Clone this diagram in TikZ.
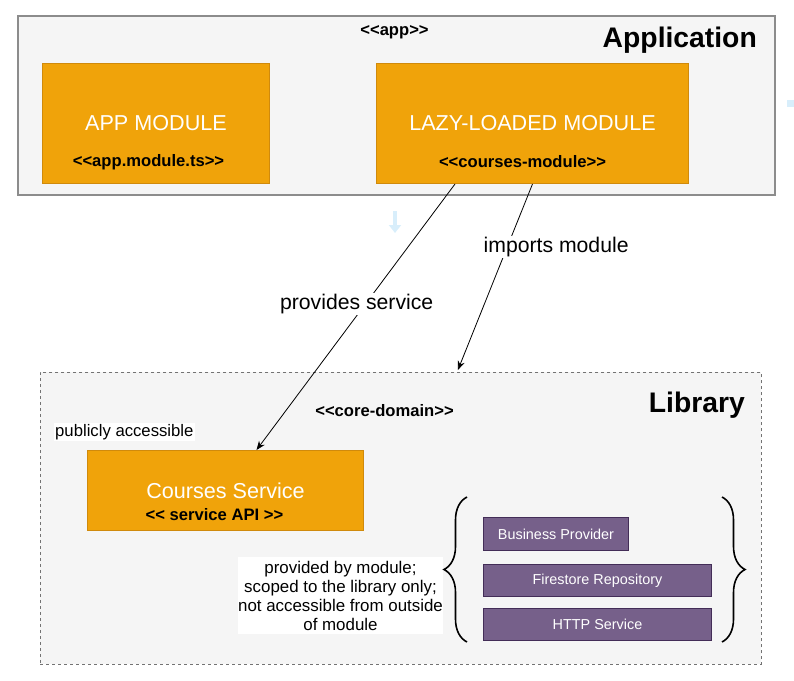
\documentclass[tikz,border=0pt]{standalone}
\usepackage{fontspec}
\setmainfont[Ligatures=TeXOff]{Liberation Sans}
\usetikzlibrary{arrows.meta,calc,decorations.pathreplacing}
\definecolor{orangefill}{HTML}{F0A30A}
\definecolor{orangeline}{HTML}{D08A0C}
\definecolor{purplefill}{HTML}{76608A}
\definecolor{purpleline}{HTML}{432D57}
\definecolor{framefill}{HTML}{F5F5F5}
\definecolor{ghostblue}{HTML}{D8EEFB}
\newcommand{\fs}[1]{\fontsize{#1}{#1}\selectfont}

\begin{document}
\begin{tikzpicture}[x=1pt, y=-1pt,
frame/.style={fill=framefill, anchor=north west, inner sep=0pt},
modbox/.style={draw=orangeline, fill=orangefill, line width=1pt, anchor=north west, inner sep=0pt, text=white, font=\fs{21.6}},
provbox/.style={draw=purpleline, fill=purplefill, line width=1pt, anchor=north west, inner sep=0pt, text=white, font=\fs{14.4}},
stereo/.style={font=\bfseries\fs{16.6}, inner sep=0pt},
title/.style={font=\bfseries\fs{28.3}, inner sep=0pt, anchor=east},
lbl/.style={fill=white, font=\fs{21.2}, inner sep=1pt},
link/.style={-{Stealth[length=9pt, width=7pt]}, line width=0.8pt},
bracket/.style={decorate, decoration={brace, amplitude=23pt}, line width=1.6pt},
]
\useasboundingbox (0,0) rectangle (794,680);

% application
\node[frame, draw=black!45, line width=1.6pt, minimum width=757, minimum height=179] (app) at (17,15) {};
\node[stereo] (appst) at (394.5,32) {<<app>>};
\node[title] (apptitle) at (757,40) {Application};
\node[modbox, minimum width=227, minimum height=120] (appmod) at (42,63) {APP MODULE};
\node[stereo] at (148.5,162) {<<app.module.ts>>};
\node[modbox, minimum width=312, minimum height=120] (lazymod) at (376,63) {LAZY-LOADED MODULE};
\node[stereo] at (522.5,162) {<<courses-module>>};

% library
\node[frame, draw=black!55, dashed, line width=0.8pt, minimum width=721, minimum height=292] (lib) at (40,372) {};
\node[stereo] (libst) at (384.5,411) {<<core-domain>>};
\node[title] (libtitle) at (745,405) {Library};
\node[fill=white, font=\fs{16.7}, inner sep=1pt, anchor=west] (pub) at (54,432) {publicly accessible};
\node[modbox, minimum width=276, minimum height=80] (courses) at (87,450) {Courses Service};
\node[stereo] at (214.5,515) {<< service API >>};

\node[fill=white, font={\fontsize{16.9}{19}\selectfont}, align=center, inner sep=0pt, minimum width=205, minimum height=77] (note) at (340.5,595.5)
  {provided by module;\\scoped to the library only;\\not accessible from outside\\of module};
\node[provbox, minimum width=145, minimum height=33] (biz) at (483,517) {Business Provider};
\node[provbox, minimum width=228, minimum height=32] (repo) at (483,564) {Firestore Repository};
\node[provbox, minimum width=228, minimum height=32] (http) at (483,608) {HTTP Service};
\draw[bracket] (467,642) -- (467,497);
\draw[bracket] (722,497) -- (722,642);

% connectors
\draw[link] ($(lazymod.south west)+(79,0)$) -- ($(courses.north)+(31,0)$)
  node[lbl, pos=0.45, xshift=-9pt] {provides service};
\draw[link] (lazymod.south) -- ($(lib.north)+(57,-2)$)
  node[lbl, pos=0.34, xshift=49pt] {imports module};

% faint hover marks
\draw[ghostblue, line width=4pt, -{Triangle[length=8pt, width=12pt]}] (395,211) -- (395,233);
\fill[ghostblue] (787,100) rectangle (794,107);
\end{tikzpicture}
\end{document}
